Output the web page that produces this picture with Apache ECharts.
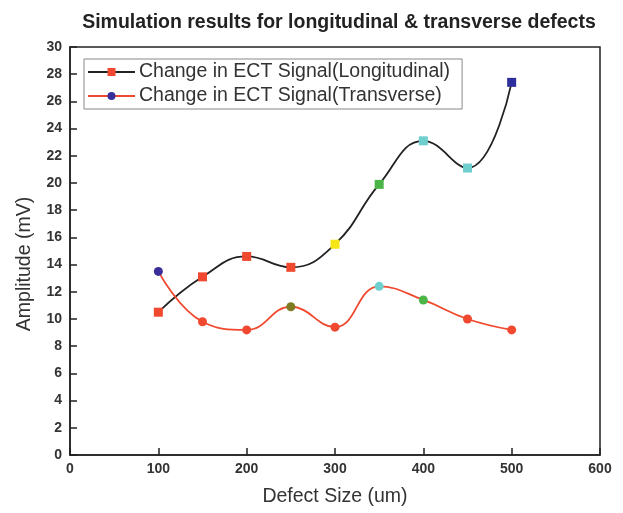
<!DOCTYPE html>
<html>
<head>
<meta charset="utf-8">
<script src="https://cdn.jsdelivr.net/npm/echarts@6/dist/echarts.min.js"></script>
<style>
  html, body { margin: 0; padding: 0; background: #fff; }
  #chart { width: 623px; height: 513px; }
</style>
</head>
<body>
<div id="chart"></div>
<script>
// 数据
var defectSizes = [100, 150, 200, 250, 300, 350, 400, 450, 500]
var longitudinal = [10.5, 13.1, 14.6, 13.8, 15.5, 19.9, 23.1, 21.1, 27.4]
var transverse = [13.5, 9.8, 9.2, 10.9, 9.4, 12.4, 11.4, 10.0, 9.2]

// 每个点的标记颜色
var longColors = ['#f0492f', '#f0492f', '#f0492f', '#f0492f', '#f5e617', '#4cb548', '#6fcfcf', '#6fcfcf', '#2e2e9c']
var transColors = ['#3a2f9a', '#f0492f', '#f0492f', '#7d7a22', '#f0492f', '#6fcfcf', '#4cb548', '#f0492f', '#f0492f']

var font = 'Liberation Sans, Arial, sans-serif'

function pairs(xs, ys, colors) {
  return xs.map(function (x, i) {
    return { value: [x, ys[i]], itemStyle: { color: colors[i] } }
  })
}

var myChart = echarts.init(document.getElementById('chart'))
var option = {
  backgroundColor: '#fff',
  animation: false,
  title: {
    text: 'Simulation results for longitudinal & transverse defects',
    left: 334,
    textAlign: 'center',
    top: 8,
    textStyle: { fontFamily: font, fontSize: 19.5, fontWeight: 'bold', color: '#222' }
  },
  legend: {
    orient: 'vertical',
    left: 84,
    top: 59,
    padding: [3, 12, 3, 3],
    itemGap: 4,
    itemWidth: 47,
    itemHeight: 10,
    borderColor: '#888',
    borderWidth: 1,
    textStyle: { fontFamily: font, fontSize: 19.5, color: '#333', padding: [0, 0, 0, -1] },
    data: ['Change in ECT Signal(Longitudinal)', 'Change in ECT Signal(Transverse)']
  },
  grid: {
    left: 70,
    right: 23,
    top: 47,
    bottom: 58,
    show: true,
    borderColor: '#222',
    borderWidth: 1.5
  },
  xAxis: {
    type: 'value',
    min: 0,
    max: 600,
    interval: 100,
    name: 'Defect Size (um)',
    nameLocation: 'middle',
    nameGap: 32,
    nameTextStyle: { fontFamily: font, fontSize: 19.5, color: '#333' },
    axisLine: { show: true, lineStyle: { color: '#222', width: 1.5 } },
    axisTick: { show: true, inside: true, length: 7, lineStyle: { color: '#222', width: 1.5 } },
    axisLabel: { fontFamily: font, fontSize: 14, fontWeight: 'bold', color: '#333', margin: 7 },
    splitLine: { show: false }
  },
  yAxis: {
    type: 'value',
    min: 0,
    max: 30,
    interval: 2,
    name: 'Amplitude (mV)',
    nameLocation: 'middle',
    nameGap: 35,
    // 名称整体下移一点
    nameTextStyle: { fontFamily: font, fontSize: 19.5, color: '#333', padding: [0, 26, 0, 0] },
    axisLine: { show: true, lineStyle: { color: '#222', width: 1.5 } },
    axisTick: { show: true, inside: true, length: 7, lineStyle: { color: '#222', width: 1.5 } },
    axisLabel: { fontFamily: font, fontSize: 14, fontWeight: 'bold', color: '#333', margin: 8 },
    splitLine: { show: false }
  },
  series: [
    {
      name: 'Change in ECT Signal(Longitudinal)',
      type: 'line',
      smooth: 0.45,
      symbol: 'rect',
      symbolSize: 9,
      itemStyle: { color: '#f0492f' },
      lineStyle: { color: '#222', width: 1.8 },
      data: pairs(defectSizes, longitudinal, longColors)
    },
    {
      name: 'Change in ECT Signal(Transverse)',
      type: 'line',
      smooth: 0.45,
      symbol: 'circle',
      symbolSize: 9,
      itemStyle: { color: '#3a2f9a' },
      lineStyle: { color: '#f0492f', width: 1.8 },
      data: pairs(defectSizes, transverse, transColors)
    }
  ]
}
myChart.setOption(option)
</script>
</body>
</html>
